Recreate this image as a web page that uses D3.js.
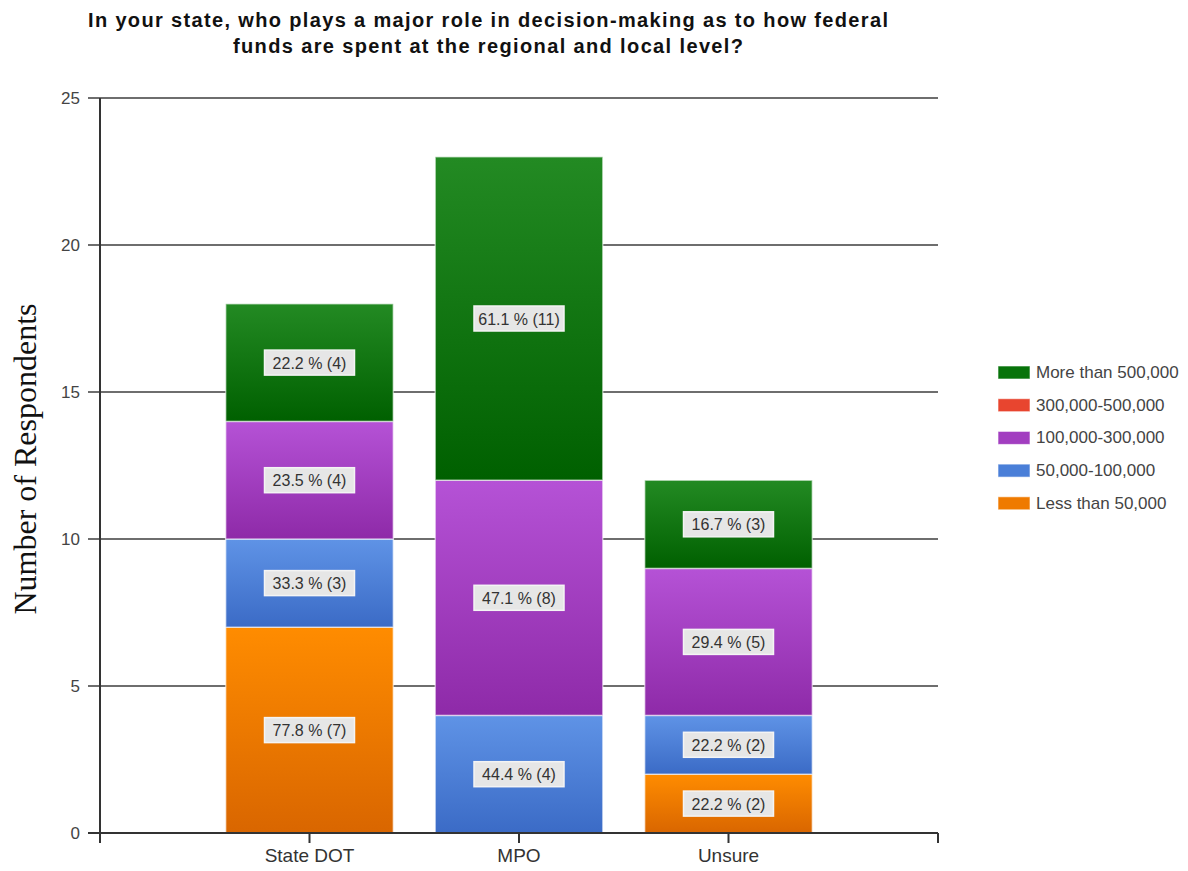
<!DOCTYPE html>
<html lang="en">
<head>
<meta charset="UTF-8">
<title>Federal funds decision-making</title>
<script src="https://d3js.org/d3.v7.min.js"></script>
<style>
  body { margin: 0; background: #fff; }
  svg { display: block; }
</style>
</head>
<body>
<div id="chart"></div>
<script>
// data
const categories = ["State DOT", "MPO", "Unsure"];
const seriesNames = ["Less than 50,000", "50,000-100,000", "100,000-300,000", "300,000-500,000", "More than 500,000"];
const lessThan50k = [7, 0, 2];
const from50to100k = [3, 4, 2];
const from100to300k = [4, 8, 5];
const from300to500k = [0, 0, 0];
const moreThan500k = [4, 11, 3];
const yTicks = [0, 5, 10, 15, 20, 25];
const titleLines = ["In your state, who plays a major role in decision-making as to how federal",
                    "funds are spent at the regional and local level?"];

const seriesValues = [lessThan50k, from50to100k, from100to300k, from300to500k, moreThan500k];
const colorTop = ["#ff8c00", "#5f93e6", "#b552d6", "#f0503a", "#238a23"];
const colorBot = ["#d96600", "#3b6bc6", "#8e2aa8", "#cc3020", "#006000"];
const legendColor = ["#ef7a00", "#4a7fd8", "#a23ec0", "#e8452f", "#07730a"];

const W = 1188, H = 871;
const plotL = 100, plotR = 938, plotT = 98, plotB = 833;

const svg = d3.select("#chart").append("svg")
  .attr("width", W).attr("height", H);

const defs = svg.append("defs");
seriesNames.forEach((s, i) => {
  const g = defs.append("linearGradient").attr("id", "grad" + i)
    .attr("x1", 0).attr("y1", 0).attr("x2", 0).attr("y2", 1);
  g.append("stop").attr("offset", "0%").attr("stop-color", colorTop[i]);
  g.append("stop").attr("offset", "100%").attr("stop-color", colorBot[i]);
});

const x = d3.scaleLinear().domain([0, categories.length + 1]).range([plotL, plotR]);
const y = d3.scaleLinear().domain([0, 25]).range([plotB, plotT]);
const bandW = (x(1) - x(0)) * 0.8;

// title (stretched a bit, the original font is wider)
const titleW = [800, 510];
svg.append("g").selectAll("text")
  .data(titleLines)
  .join("text")
  .attr("x", 488).attr("y", (d, i) => 27 + i * 26)
  .attr("text-anchor", "middle")
  .attr("textLength", (d, i) => titleW[i])
  .attr("lengthAdjust", "spacing")
  .style("font-family", "'Liberation Sans', Arial, sans-serif")
  .style("font-weight", "bold").style("font-size", "20px").attr("fill", "#111")
  .text(d => d);

// gridlines
svg.append("g").selectAll("line")
  .data(yTicks.filter(t => t > 0))
  .join("line")
  .attr("x1", plotL - 12).attr("x2", plotR)
  .attr("y1", d => y(d)).attr("y2", d => y(d))
  .attr("stroke", "#6e6e6e").attr("stroke-width", 2);

// y tick labels
svg.append("g").selectAll("text")
  .data(yTicks)
  .join("text")
  .attr("x", plotL - 20).attr("y", d => y(d) + 6)
  .attr("text-anchor", "end")
  .style("font-family", "Arial, sans-serif").style("font-size", "17px")
  .attr("fill", "#444")
  .text(d => d);

// stacked bars
const totals = seriesValues.map(s => d3.sum(s));
const stacked = [];
categories.forEach((c, ci) => {
  let base = 0;
  seriesValues.forEach((s, si) => {
    const v = s[ci];
    if (v > 0) {
      stacked.push({ ci, si, y0: base, y1: base + v, v, pct: v / totals[si] * 100 });
    }
    base += v;
  });
});

svg.append("g").selectAll("rect")
  .data(stacked)
  .join("rect")
  .attr("x", d => x(d.ci + 1) - bandW / 2)
  .attr("width", bandW)
  .attr("y", d => y(d.y1))
  .attr("height", d => y(d.y0) - y(d.y1))
  .attr("fill", d => `url(#grad${d.si})`)
  .attr("stroke", "rgba(255,255,255,0.55)").attr("stroke-width", 1.5);

// value labels
const lab = svg.append("g").selectAll("g")
  .data(stacked)
  .join("g")
  .attr("transform", d => `translate(${x(d.ci + 1)},${y((d.y0 + d.y1) / 2)})`);
lab.append("rect")
  .attr("x", -45).attr("y", -12.5).attr("width", 90).attr("height", 25)
  .attr("fill", "#e6e6e6").attr("stroke", "#f4f4f4").attr("stroke-width", 1.5);
lab.append("text")
  .attr("text-anchor", "middle").attr("y", 6)
  .style("font-family", "Arial, sans-serif").style("font-size", "16px")
  .attr("fill", "#333")
  .text(d => `${d.pct.toFixed(1)} % (${d.v})`);

// axis lines
svg.append("line").attr("x1", plotL).attr("x2", plotL).attr("y1", plotT).attr("y2", plotB + 10)
  .attr("stroke", "#333").attr("stroke-width", 2);
svg.append("line").attr("x1", plotL - 12).attr("x2", plotR).attr("y1", plotB).attr("y2", plotB)
  .attr("stroke", "#333").attr("stroke-width", 2);

// x ticks
svg.append("g").selectAll("line")
  .data(d3.range(0, categories.length + 2))
  .join("line")
  .attr("x1", d => x(d)).attr("x2", d => x(d))
  .attr("y1", plotB).attr("y2", plotB + 10)
  .attr("stroke", "#333").attr("stroke-width", 2);
svg.append("g").selectAll("text")
  .data(categories)
  .join("text")
  .attr("x", (d, i) => x(i + 1)).attr("y", 862)
  .attr("text-anchor", "middle")
  .style("font-family", "Arial, sans-serif").style("font-size", "19px")
  .attr("fill", "#333")
  .text(d => d);

// y axis title
svg.append("text")
  .attr("transform", "translate(36,459) rotate(-90)")
  .attr("text-anchor", "middle")
  .style("font-family", "'Liberation Serif', 'Times New Roman', serif").style("font-size", "32px")
  .attr("fill", "#111")
  .text("Number of Respondents");

// legend
const legendOrder = d3.range(seriesNames.length).reverse();
const leg = svg.append("g").selectAll("g")
  .data(legendOrder)
  .join("g")
  .attr("transform", (d, i) => `translate(998,${372 + i * 32.7})`);
leg.append("rect")
  .attr("x", 0).attr("y", -6).attr("width", 32).attr("height", 13)
  .attr("fill", d => legendColor[d])
  .attr("stroke", "rgba(255,255,255,0.6)");
leg.append("text")
  .attr("x", 38).attr("y", 6)
  .style("font-family", "Arial, sans-serif").style("font-size", "17px")
  .attr("fill", "#444")
  .text(d => seriesNames[d]);
</script>
</body>
</html>
